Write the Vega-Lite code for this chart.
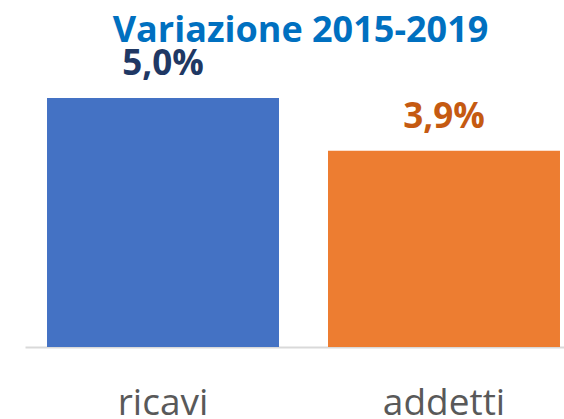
{
  "$schema": "https://vega.github.io/schema/vega-lite/v6.json",
  "autosize": "none",
  "width": 539,
  "height": 249,
  "padding": {"left": 25, "top": 98, "right": 0, "bottom": 72},
  "background": "white",
  "title": {
    "text": "Variazione 2015-2019",
    "font": "Open Sans",
    "fontSize": 36,
    "fontWeight": "bold",
    "color": "#0070C0",
    "anchor": "middle",
    "frame": "group",
    "baseline": "alphabetic",
    "offset": 7,
    "dx": 6,
    "dy": 38
  },
  "data": {
    "values": [
      {"cat": "ricavi", "value": 5.0, "label": "5,0%"},
      {"cat": "addetti", "value": 3.94, "label": "3,9%"}
    ]
  },
  "encoding": {
    "x": {
      "field": "cat",
      "type": "nominal",
      "sort": ["ricavi", "addetti"],
      "scale": {"paddingInner": 0.1744, "paddingOuter": 0.0463, "align": 0.846},
      "axis": {
        "title": null,
        "ticks": false,
        "tickSize": 0,
        "domainColor": "#D9D9D9",
        "domainWidth": 2,
        "labelFont": "Open Sans",
        "labelFontSize": 37,
        "labelColor": "#595959",
        "labelBaseline": "alphabetic",
        "labelPadding": 67,
        "labelAngle": 0
      }
    },
    "y": {
      "field": "value",
      "type": "quantitative",
      "scale": {"domain": [0, 5], "nice": false, "zero": true},
      "axis": null
    }
  },
  "layer": [
    {
      "mark": {"type": "bar"},
      "encoding": {
        "color": {
          "field": "cat",
          "type": "nominal",
          "scale": {"domain": ["ricavi", "addetti"], "range": ["#4472C4", "#ED7D31"]},
          "legend": null
        }
      }
    },
    {
      "mark": {"type": "text", "font": "Open Sans", "fontSize": 35, "fontWeight": "bold", "baseline": "alphabetic", "dy": -23},
      "encoding": {
        "text": {"field": "label"},
        "color": {
          "field": "cat",
          "type": "nominal",
          "scale": {"domain": ["ricavi", "addetti"], "range": ["#1F3864", "#C55A11"]},
          "legend": null
        }
      }
    }
  ],
  "resolve": {"scale": {"color": "independent"}},
  "config": {"view": {"stroke": null}}
}
